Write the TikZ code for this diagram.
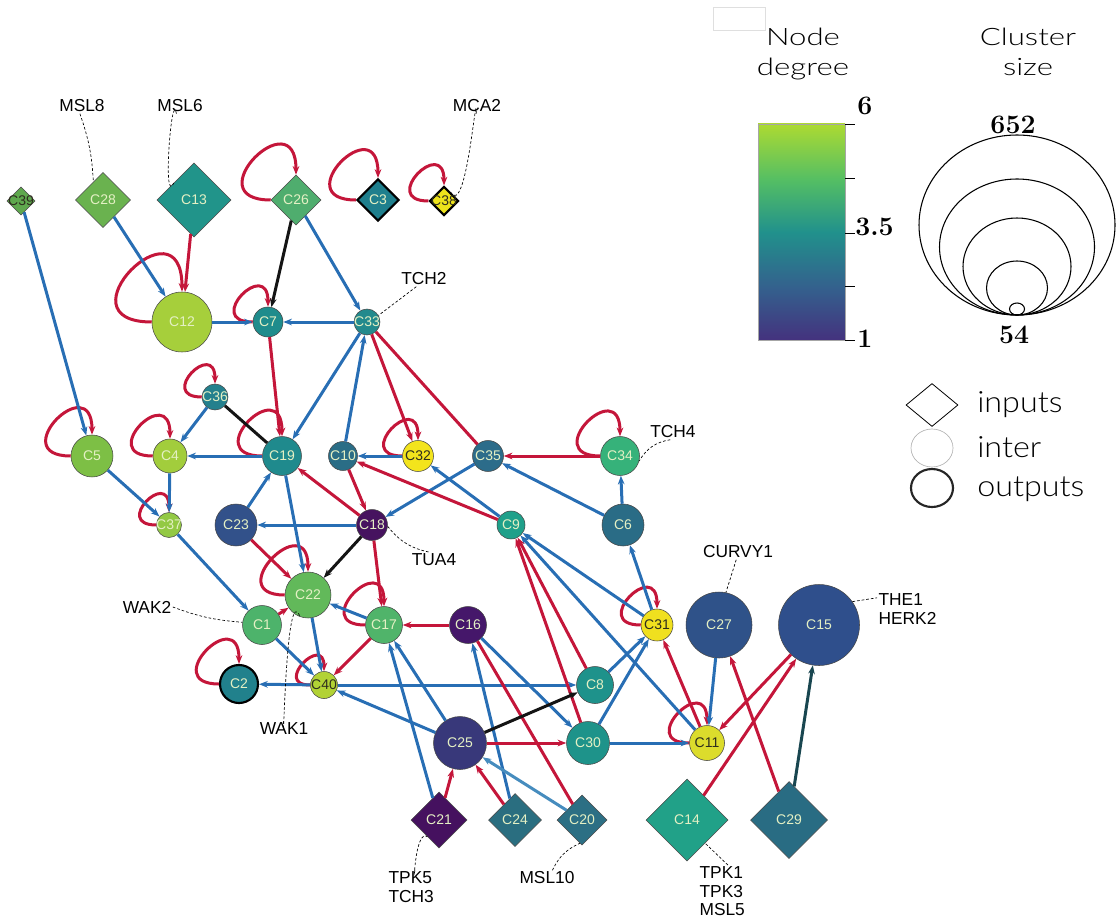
\documentclass[tikz,border=0pt]{standalone}
\usepackage{fontspec}
\usepackage{graphicx}
\usetikzlibrary{shapes.geometric,arrows.meta}
\newfontfamily\arial{Liberation Sans}
\newfontfamily\lato{Lato Light}
\newcommand{\cname}[1]{\makebox[0pt]{#1}}
\definecolor{vira}{RGB}{68,50,126}
\definecolor{virb}{RGB}{52,96,141}
\definecolor{virc}{RGB}{33,145,140}
\definecolor{vird}{RGB}{84,190,100}
\definecolor{vire}{RGB}{172,218,50}
\pgfdeclareverticalshading{viridis}{100bp}{color(0bp)=(vira); color(25bp)=(vira); color(37bp)=(virb); color(50bp)=(virc); color(62bp)=(vird); color(75bp)=(vire); color(100bp)=(vire)}

\begin{document}
\begin{tikzpicture}[x=0.75pt,y=0.75pt,yscale=-1,xscale=1,
  nd/.style={circle, draw={rgb,255:red,70;green,70;blue,70}, line width=0.4pt, inner sep=0pt, minimum size=#1*0.75pt, font=\arial\fontsize{10.5}{10.5}\selectfont, text={rgb,255:red,228;green,240;blue,196}},
  inp/.style={nd=#1, diamond},
  outp/.style={line width=1.6pt, draw=black},
  dk/.style={text={rgb,255:red,45;green,45;blue,30}},
  rd/.style={draw={rgb,255:red,196;green,22;blue,58}, line width=2.25pt, -{Stealth[length=6.5pt,width=5pt]}},
  bl/.style={draw={rgb,255:red,40;green,110;blue,180}, line width=2.25pt, -{Stealth[length=6.5pt,width=5pt]}},
  bk/.style={draw={rgb,255:red,20;green,20;blue,20}, line width=2.25pt, -{Stealth[length=6.5pt,width=5pt]}},
  lead/.style={dash pattern=on 2pt off 1.5pt, line width=0.5pt},
  lbl/.style={font=\arial\fontsize{13}{14}\selectfont, inner sep=1pt, align=left},
  legt/.style={font=\lato\fontsize{18}{20}\selectfont, inner sep=0pt},
  legi/.style={font=\lato\fontsize{22}{24}\selectfont, inner sep=0pt},
  num/.style={font=\fontsize{20}{20}\selectfont\bfseries, inner sep=0pt}]
\useasboundingbox (0,0) rectangle (1116,920);

% Nodes, top row (inputs)
\node [inp=28, dk, fill={rgb,255:red,95;green,168;blue,78}] (C39) at (21,201) {\cname{C39}};
\node [inp=55, fill={rgb,255:red,106;green,178;blue,79}] (C28) at (103,200) {\cname{C28}};
\node [inp=74, fill={rgb,255:red,33;green,148;blue,138}] (C13) at (194,200) {\cname{C13}};
\node [inp=50, fill={rgb,255:red,79;green,173;blue,110}] (C26) at (296,200) {\cname{C26}};
\node [inp=42, outp, fill={rgb,255:red,31;green,127;blue,141}] (C3) at (378,200) {\cname{C3}};
\node [inp=29, outp, dk, fill={rgb,255:red,237;green,227;blue,28}] (C38) at (444,201) {\cname{C38}};
% Nodes, second row
\node [nd=60, fill={rgb,255:red,166;green,207;blue,59}] (C12) at (182,322) {\cname{C12}};
\node [nd=30, fill={rgb,255:red,31;green,140;blue,140}] (C7) at (268,322) {\cname{C7}};
\node [nd=26, fill={rgb,255:red,35;green,138;blue,141}] (C33) at (367,322) {\cname{C33}};
\node [nd=26, fill={rgb,255:red,36;green,128;blue,141}] (C36) at (215,397) {\cname{C36}};
% Nodes, third row
\node [nd=42, fill={rgb,255:red,125;green,191;blue,69}] (C5) at (92,456) {\cname{C5}};
\node [nd=34, fill={rgb,255:red,162;green,205;blue,60}] (C4) at (170,456) {\cname{C4}};
\node [nd=39, fill={rgb,255:red,31;green,138;blue,141}] (C19) at (282,456) {\cname{C19}};
\node [nd=29, fill={rgb,255:red,42;green,109;blue,134}] (C10) at (343,456) {\cname{C10}};
\node [nd=31, dk, fill={rgb,255:red,243;green,228;blue,28}] (C32) at (418,456) {\cname{C32}};
\node [nd=31, fill={rgb,255:red,44;green,108;blue,138}] (C35) at (488,456) {\cname{C35}};
\node [nd=39, fill={rgb,255:red,54;green,178;blue,122}] (C34) at (620,456) {\cname{C34}};
% Nodes, fourth row
\node [nd=25, fill={rgb,255:red,147;green,201;blue,68}] (C37) at (169,525) {\cname{C37}};
\node [nd=42, fill={rgb,255:red,50;green,81;blue,138}] (C23) at (236,525) {\cname{C23}};
\node [nd=31, fill={rgb,255:red,70;green,19;blue,95}] (C18) at (372,525) {\cname{C18}};
\node [nd=28, fill={rgb,255:red,31;green,160;blue,138}] (C9) at (511,525) {\cname{C9}};
\node [nd=42, fill={rgb,255:red,42;green,108;blue,134}] (C6) at (623,525) {\cname{C6}};
% Nodes, fifth row
\node [nd=46, fill={rgb,255:red,98;green,185;blue,90}] (C22) at (308,595) {\cname{C22}};
\node [nd=39, fill={rgb,255:red,77;green,179;blue,107}] (C1) at (262,625) {\cname{C1}};
\node [nd=37, fill={rgb,255:red,80;green,180;blue,106}] (C17) at (384,625) {\cname{C17}};
\node [nd=37, fill={rgb,255:red,69;green,23;blue,106}] (C16) at (468,625) {\cname{C16}};
\node [nd=32, dk, fill={rgb,255:red,240;green,224;blue,31}] (C31) at (657,625) {\cname{C31}};
\node [nd=66, fill={rgb,255:red,47;green,82;blue,137}] (C27) at (719,625) {\cname{C27}};
\node [nd=81, fill={rgb,255:red,47;green,79;blue,140}] (C15) at (819,625) {\cname{C15}};
% Nodes, sixth row
\node [nd=38, outp, fill={rgb,255:red,33;green,129;blue,140}] (C2) at (239,684) {\cname{C2}};
\node [nd=27, dk, fill={rgb,255:red,178;green,210;blue,53}] (C40) at (324,685) {\cname{C40}};
\node [nd=37, fill={rgb,255:red,30;green,146;blue,139}] (C8) at (595,685) {\cname{C8}};
\node [nd=53, fill={rgb,255:red,56;green,56;blue,122}] (C25) at (460,743) {\cname{C25}};
\node [nd=43, fill={rgb,255:red,30;green,147;blue,138}] (C30) at (588,743) {\cname{C30}};
\node [nd=35, dk, fill={rgb,255:red,220;green,220;blue,44}] (C11) at (707,743) {\cname{C11}};
% Nodes, bottom row (inputs)
\node [inp=56, fill={rgb,255:red,69;green,17;blue,95}] (C21) at (439,820) {\cname{C21}};
\node [inp=53, fill={rgb,255:red,42;green,110;blue,128}] (C24) at (515,820) {\cname{C24}};
\node [inp=50, fill={rgb,255:red,44;green,111;blue,132}] (C20) at (582,820) {\cname{C20}};
\node [inp=82, fill={rgb,255:red,33;green,161;blue,136}] (C14) at (687,820) {\cname{C14}};
\node [inp=77, fill={rgb,255:red,41;green,108;blue,131}] (C29) at (789,820) {\cname{C29}};

% Self loops
\draw [rd] (C26.west) .. controls +(-77,0) and +(0,-77) .. (C26.north);
\draw [rd] (C3.west) .. controls +(-70,0) and +(0,-70) .. (C3.north);
\draw [rd] (C38.west) .. controls +(-50,0) and +(0,-50) .. (C38.north);
\draw [rd] (C12.west) .. controls +(-96,0) and +(0,-96) .. (C12.north);
\draw [rd] (C7.west) .. controls +(-50,0) and +(0,-50) .. (C7.north);
\draw [rd] (C36.west) .. controls +(-45,0) and +(0,-45) .. (C36.north);
\draw [rd] (C5.west) .. controls +(-67,0) and +(0,-67) .. (C5.north);
\draw [rd] (C4.west) .. controls +(-57,0) and +(0,-57) .. (C4.north);
\draw [rd] (C19.west) .. controls +(-64,0) and +(0,-64) .. (C19.north);
\draw [rd] (C32.west) .. controls +(-50,0) and +(0,-50) .. (C32.north);
\draw [rd] (C34.west) .. controls +(-62,0) and +(0,-62) .. (C34.north);
\draw [rd] (C37.west) .. controls +(-44,0) and +(0,-44) .. (C37.north);
\draw [rd] (C22.west) .. controls +(-65,0) and +(0,-65) .. (C22.north);
\draw [rd] (C17.west) .. controls +(-57,0) and +(0,-57) .. (C17.north);
\draw [rd] (C2.west) .. controls +(-61,0) and +(0,-61) .. (C2.north);
\draw [rd] (C40.west) .. controls +(-38,0) and +(0,-38) .. (C40.north);
\draw [rd] (C31.west) .. controls +(-52,0) and +(0,-52) .. (C31.north);
\draw [rd] (C11.west) .. controls +(-54,0) and +(0,-54) .. (C11.north);

% Blue edges
\draw [bl] (C39) -- (C5);
\draw [bl] (C28) -- (C12);
\draw [bl] (C26) -- (C33);
\draw [bl] (C12) -- (C7);
\draw [bl] (C33) -- (C7);
\draw [bl] (C33) -- (C19);
\draw [bl] (C10) -- (C33);
\draw [bl] (C32) -- (C10);
\draw [bl] (C19) -- (C4);
\draw [bl] (C36) -- (C4);
\draw [bl] (C5) -- (C37);
\draw [bl] (C4) -- (C37);
\draw [bl] (C37) -- (C1);
\draw [bl] (C23) -- (C19);
\draw [bl] (C18) -- (C23);
\draw [bl] (C35) -- (C18);
\draw [bl] (C6) -- (C35);
\draw [bl] (C6) -- (C34);
\draw [bl] (C31) -- (C6);
\draw [bl] (C9) -- (C32);
\draw [bl] (C19) -- (C22);
\draw [bl] (C17) -- (C22);
\draw [bl] (C22) -- (C40);
\draw [bl] (C1) -- (C40);
\draw [bl] (C40) -- (C2);
\draw [bl] (C40) -- (C8);
\draw [bl] (C25) -- (C40);
\draw [bl] (C25) -- (C17);
\draw [bl] (C21) -- (C17);
\draw [bl] (C24) -- (C16);
\draw [bl] (C16) -- (C30);
\draw [bl] (C30) -- (C11);
\draw [bl] (C30) -- (C31);
\draw [bl] (C8) -- (C31);
\draw [bl] (C31) -- (C9);
\draw [bl] (C11) -- (C9);
\draw [bl] (C27) -- (C11);
\draw [bl, draw={rgb,255:red,70;green,140;blue,190}] (C20) -- (C25);

% Red edges
\draw [rd] (C13) -- (C12);
\draw [rd] (C7) -- (C19);
\draw [rd] (C33) -- (C32);
\draw [rd, -] (C33) -- (C35);
\draw [rd] (C34) -- (C35);
\draw [rd] (C18) -- (C19);
\draw [rd] (C10) -- (C18);
\draw [rd] (C9) -- (C10);
\draw [rd] (C23) -- (C22);
\draw [rd] (C1) -- (C22);
\draw [rd] (C18) -- (C17);
\draw [rd] (C16) -- (C17);
\draw [rd] (C17) -- (C40);
\draw [rd] (C21) -- (C25);
\draw [rd] (C24) -- (C25);
\draw [rd, -] (C16) -- (C20);
\draw [rd] (C25) -- (C30);
\draw [rd] (C8) -- (C9);
\draw [rd] (C30) -- (C9);
\draw [rd] (C11) -- (C31);
\draw [rd] (C15) -- (C11);
\draw [rd] (C14) -- (C15);
\draw [rd] (C29) -- (C27);

% Black edges
\draw [bk] (C26) -- (C7);
\draw [bk, -] (C36) -- (C19);
\draw [bk] (C18) -- (C22);
\draw [bk] (C25) -- (C8);
\draw [bk, draw={rgb,255:red,25;green,70;blue,80}] (C29) -- (C15);

% Gene labels
\node [lbl] (msl8) at (82,106) {MSL8};
\node [lbl] (msl6) at (180,106) {MSL6};
\node [lbl] (mca2) at (477,106) {MCA2};
\node [lbl] (tch2) at (424,279) {TCH2};
\node [lbl] (tch4) at (673,432) {TCH4};
\node [lbl] (tua4) at (434,560) {TUA4};
\node [lbl] (curvy1) at (738,552) {CURVY1};
\node [lbl, anchor=north west] (the1) at (877,592) {THE1\\HERK2};
\node [lbl] (wak2) at (147,607) {WAK2};
\node [lbl] (wak1) at (284,729) {WAK1};
\node [lbl, anchor=north west] (tpk5) at (387,870) {TPK5\\TCH3};
\node [lbl] (msl10) at (547,878) {MSL10};
\node [lbl, anchor=north west] (tpk1) at (698,865) {TPK1\\TPK3\\MSL5};

\draw [lead] (msl8.255) to[bend right=8] (C28.118);
\draw [lead] (msl6.245) to[out=-100,in=115] (C13.140);
\draw [lead] (mca2.265) to[out=-90,in=60] (C38.55);
\draw [lead] (tch2.225) -- (C33.30);
\draw [lead] (tch4.250) to[bend left=25] (C34.-15);
\draw [lead] (C18.-5) to[bend left=20] (tua4.115);
\draw [lead] (curvy1.257) -- (C27.78);
\draw [lead] (C15.35) -- (the1.160);
\draw [lead] (wak2.east) to[bend left=8] (C1.172);
\draw [lead] (wak1.95) to[out=90,in=250] (C22.250);
\draw [lead] (tpk5.78) to[out=95,in=215] (C21.235);
\draw [lead] (msl10.55) to[bend right=20] (C20.265);
\draw [lead] (tpk1.78) -- (C14.-52);

% Legend: node degree
\draw [draw=gray!25] (713,7) rectangle (765,30);
\node [legt, anchor=base] at (803,46) {\scalebox{1.3}[1]{Node}};
\node [legt, anchor=base] at (803,76) {\scalebox{1.3}[1]{degree}};
\shade [shading=viridis] (758,124) rectangle (845,340);
\draw [line width=0.4pt, draw=gray!70] (758,124) rectangle (845,340);
\foreach \ty in {124,178,233,286,340}
  \draw [line width=0.6pt] (845,\ty) -- (855,\ty);
\node [num, anchor=base west] at (857,115) {6};
\node [num, anchor=base west] at (855,235) {3.5};
\node [num, anchor=base west] at (857,347) {1};

% Legend: cluster size
\node [legt, anchor=base] at (1028,46) {\scalebox{1.3}[1]{Cluster}};
\node [legt, anchor=base] at (1028,76) {\scalebox{1.3}[1]{size}};
\draw [line width=0.8pt] (1017,225) ellipse [x radius=98, y radius=90];
\draw [line width=0.8pt] (1017,247) ellipse [x radius=77.5, y radius=68];
\draw [line width=0.8pt] (1017,266.5) ellipse [x radius=54, y radius=48.5];
\draw [line width=0.8pt] (1017,288) ellipse [x radius=30.5, y radius=27];
\draw [line width=0.8pt] (1017,309) ellipse [x radius=7.5, y radius=6];
\node [num, anchor=base] at (1013,133) {652};
\node [num, anchor=base] at (1014,343) {54};

% Legend: node kinds
\node [diamond, draw, line width=0.6pt, inner sep=0pt, minimum width=52*0.75pt, minimum height=43*0.75pt] (keyin) at (932,405) {};
\draw [line width=0.5pt, draw=gray!60] (932,448) ellipse [x radius=21, y radius=19];
\draw [line width=1.6pt, draw=black!85] (932,488) ellipse [x radius=21, y radius=19];
\node [legi, anchor=base west] at (977,412) {\scalebox{1.1}[1]{inputs}};
\node [legi, anchor=base west] at (977,457) {\scalebox{1.1}[1]{inter}};
\node [legi, anchor=base west] at (977,496) {\scalebox{1.1}[1]{outputs}};

\end{tikzpicture}
\end{document}
